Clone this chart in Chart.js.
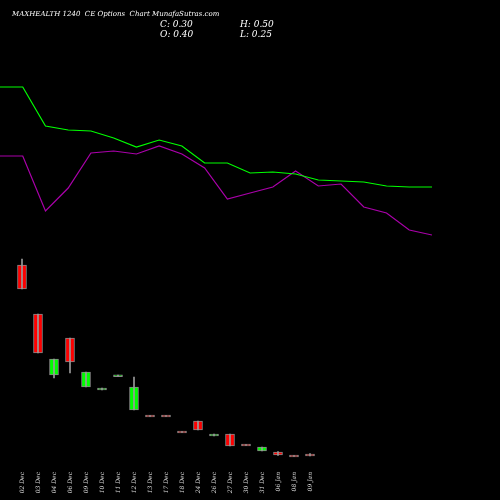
<!DOCTYPE html>
<html><head><script src="https://cdn.jsdelivr.net/npm/chart.js@4"></script>
<style>html,body{margin:0;background:#000}</style></head>
<body><canvas id="c" width="500" height="500" style="width:500px;height:500px;display:block"></canvas>
<script>
const dates=["02 Dec","03 Dec","04 Dec","06 Dec","09 Dec","10 Dec","11 Dec","12 Dec","13 Dec","17 Dec","18 Dec","24 Dec","26 Dec","27 Dec","30 Dec","31 Dec","06 Jan","08 Jan","09 Jan"];
const opens=[3.86,2.88,1.66,2.40,1.42,1.36,1.63,0.96,0.85,0.85,0.53,0.74,0.44,0.48,0.27,0.14,0.12,0.05,0.08];
const closes=[3.38,2.10,1.98,1.92,1.72,1.40,1.66,1.42,0.83,0.83,0.51,0.56,0.48,0.24,0.25,0.22,0.06,0.03,0.04];
const highs=[3.98,2.88,1.98,2.40,1.72,1.40,1.66,1.62,0.85,0.85,0.53,0.74,0.48,0.48,0.27,0.22,0.13,0.05,0.09];
const lows=[3.38,2.10,1.60,1.70,1.42,1.36,1.63,0.96,0.83,0.83,0.51,0.56,0.44,0.24,0.25,0.14,0.05,0.03,0.04];
const greenLine=[371,371,332,328,327,320,311,318,312,295,295,285,286,284,278,277,276,272,271,271];
const purpleLine=[302,302,247,270,305,307,304,312,304,290,259,265,271,287,272,274,251,245,228,223];
const bodyCol=opens.map((o,i)=>closes[i]>=o?'#00ff00':'#ff0000');
const overlay={id:'ov',afterDraw(ch){const c=ch.ctx;c.save();c.fillStyle='#fff';
c.font='italic 7px "DejaVu Serif"';c.fillText('MAXHEALTH 1240  CE Options  Chart MunafaSutras.com',12,16);
c.font='italic 9px "DejaVu Serif"';c.fillText('C: 0.30',160,27);c.fillText('O: 0.40',160,37);c.fillText('H: 0.50',240,27);c.fillText('L: 0.25',240,37);c.restore();}};
const bg={id:'bg',beforeDraw(ch){const c=ch.ctx;c.save();c.fillStyle='#000';c.fillRect(0,0,ch.width,ch.height);c.restore();}};
new Chart(document.getElementById('c'),{
type:'bar',
data:{datasets:[
{type:'line',data:greenLine.map((v,i)=>({x:i,y:v})),xAxisID:'x2',yAxisID:'y2',borderColor:'#00ff00',borderWidth:1.2,pointRadius:0,tension:0},
{type:'line',data:purpleLine.map((v,i)=>({x:i,y:v})),xAxisID:'x2',yAxisID:'y2',borderColor:'#aa00aa',borderWidth:1.2,pointRadius:0,tension:0},
{type:'bar',data:highs.map((h,i)=>({x:i,y:[lows[i],h]})),backgroundColor:'#999',barThickness:1,grouped:false,xAxisID:'x',yAxisID:'y'},
{type:'bar',data:opens.map((o,i)=>({x:i,y:Math.abs(o-closes[i])<0.04?[(o+closes[i])/2-0.02,(o+closes[i])/2+0.02]:[o,closes[i]]})),backgroundColor:bodyCol,borderColor:'#888',borderWidth:1,borderSkipped:false,barThickness:9,grouped:false,xAxisID:'x',yAxisID:'y'}
]},
options:{responsive:false,animation:false,devicePixelRatio:1,
layout:{padding:{left:0,right:68,top:0,bottom:0}},
plugins:{legend:{display:false},tooltip:{enabled:false}},
scales:{
x:{type:'linear',offset:false,min:-1.375,max:25.625,grid:{display:false},border:{display:false},afterFit(s){s.height=42;},
afterBuildTicks(s){s.ticks=dates.map((_,i)=>({value:i}));},
ticks:{callback:v=>dates[v]??'',color:'#ddd',font:{size:6,family:'DejaVu Serif',style:'italic'},minRotation:90,maxRotation:90,autoSkip:false,padding:6}},
x2:{type:'linear',offset:false,display:false,min:0,max:19},
y:{display:false,min:0,max:9.16},
y2:{display:false,min:0,max:458}
}},
plugins:[bg,overlay]});
</script></body></html>
